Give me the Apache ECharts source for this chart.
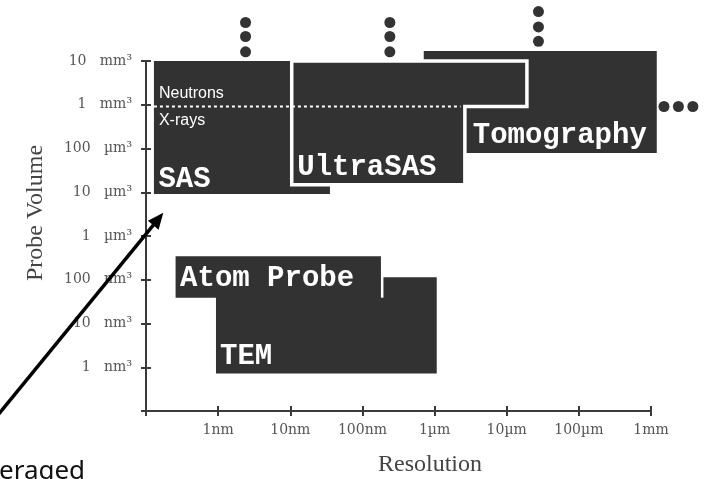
<!DOCTYPE html>
<html><head><meta charset="utf-8">
<script src="https://cdn.jsdelivr.net/npm/echarts@6/dist/echarts.min.js"></script>
<style>html,body{margin:0;padding:0;background:#fff}#c{width:707px;height:479px}</style>
</head><body><div id="c"></div>
<script>
// Resolution axis: log10(resolution / nm).  Probe-volume axis: decade index (0 = 1 nm³ ... 7 = 10 mm³)
const xTickLabels = ['1nm', '10nm', '100nm', '1µm', '10µm', '100µm', '1mm'];            // at 0..6
const yTickLabels = ['1   nm³', '10   nm³', '100   nm³', '1   µm³', '10   µm³', '100   µm³', '1   mm³', '10   mm³']; // at 0..7

const techniques = ['TEM', 'Atom Probe', 'Tomography', 'SAS', 'UltraSAS'];
const resLow  = [-0.03, -0.59, 2.85, -0.89, 1.02];
const resHigh = [ 3.03,  2.26, 6.08,  1.55, 4.28];
const volLow  = [-0.14,  1.59, 4.90,  3.96, 4.17];
const volHigh = [ 2.06,  2.54, 7.23,  7.00, 7.00];
const ultraSasXrayResHigh = 3.42;       // UltraSAS reach below the neutron / x-ray boundary
const neutronXrayBoundary = 5.96;
const boundaryResRange = [-0.89, 3.36];

// "more" continuation dots
const moreX = [0.38, 0.38, 0.38, 2.38, 2.38, 2.38, 4.44, 4.44, 4.44, 6.18, 6.38, 6.58];
const moreY = [7.88, 7.56, 7.21, 7.88, 7.56, 7.21, 8.13, 7.78, 7.45, 5.96, 5.96, 5.96];

const BOX_FILL = '#323232';
const BOX_FONT = 'bold 29px "Liberation Mono", "Courier New", monospace';
const labelOffset = { 'TEM': [4, -17], 'Atom Probe': [4.5, -18.5], 'Tomography': [49, -17], 'SAS': [4.5, -14.5], 'UltraSAS': [5.5, -17.5] };

function renderBox(params, api) {
  const i = params.dataIndex;
  const name = techniques[i];
  const bl = api.coord([api.value(0), api.value(2)]);
  const tr = api.coord([api.value(1), api.value(3)]);
  const children = [];
  const zb = i * 10;
  if (name === 'UltraSAS') {
    const pm = api.coord([ultraSasXrayResHigh, neutronXrayBoundary]);
    const pts = [[bl[0], tr[1]], [tr[0], tr[1]], [tr[0], pm[1]], [pm[0], pm[1]], [pm[0], bl[1]], [bl[0], bl[1]]];
    children.push({ type: 'polygon', z2: zb, shape: { points: pts }, style: { fill: BOX_FILL, stroke: '#fff', lineWidth: 3.5 } });
  } else {
    children.push({ type: 'rect', z2: zb, shape: { x: bl[0], y: tr[1], width: tr[0] - bl[0], height: bl[1] - tr[1] }, style: { fill: BOX_FILL } });
  }
  if (name === 'Atom Probe') {
    children.push({ type: 'line', z2: zb + 1, shape: { x1: tr[0] + 1, y1: tr[1], x2: tr[0] + 1, y2: bl[1] }, style: { stroke: '#fff', lineWidth: 2.5 } });
  }
  const off = labelOffset[name];
  children.push({ type: 'text', z2: zb + 2, x: bl[0] + off[0], y: bl[1] + off[1],
    style: { text: name, fill: '#fff', font: BOX_FONT, align: 'left', verticalAlign: 'middle' } });
  return { type: 'group', children };
}

function renderBoundary(params, api) {
  const a = api.coord([api.value(0), api.value(2)]);
  const b = api.coord([api.value(1), api.value(2)]);
  const f = '16px "Liberation Sans", Arial, sans-serif';
  return { type: 'group', children: [
    { type: 'line', shape: { x1: a[0], y1: a[1], x2: b[0], y2: b[1] }, style: { stroke: '#fff', lineWidth: 2, lineDash: [3, 3] } },
    { type: 'text', x: a[0] + 5, y: a[1] - 13.4, style: { text: 'Neutrons', fill: '#fff', font: f, align: 'left', verticalAlign: 'middle' } },
    { type: 'text', x: a[0] + 5, y: a[1] + 13.8, style: { text: 'X-rays', fill: '#fff', font: f, align: 'left', verticalAlign: 'middle' } }
  ] };
}

const axisColor = '#3a3a3a';
const tickLabelStyle = { color: '#555', fontFamily: '"DejaVu Serif", serif', fontSize: 14 };
const tickLine = { color: axisColor, width: 2 };

const chart = echarts.init(document.getElementById('c'), null, { renderer: 'canvas' });
chart.setOption({
  animation: false,
  backgroundColor: '#fff',
  grid: { left: 146, right: 56, top: 61, bottom: 68, containLabel: false, outerBoundsMode: 'none' },
  xAxis: [
    { type: 'value', min: -1, max: 6, interval: 1,
      axisLine: { onZero: false, lineStyle: tickLine },
      axisTick: { length: 5, lineStyle: tickLine },
      axisLabel: Object.assign({}, tickLabelStyle, { margin: 12, formatter: v => v >= 0 ? xTickLabels[Math.round(v)] : '' }),
      splitLine: { show: false } },
    { type: 'value', position: 'bottom', min: -1, max: 6, interval: 1,
      axisLine: { show: false, onZero: false },
      axisTick: { inside: true, length: 5, lineStyle: tickLine },
      axisLabel: { show: false }, splitLine: { show: false } }
  ],
  yAxis: [
    { type: 'value', min: -1, max: 7, interval: 1,
      axisLine: { onZero: false, lineStyle: tickLine },
      axisTick: { length: 5, lineStyle: tickLine },
      axisLabel: Object.assign({}, tickLabelStyle, { margin: 14, formatter: v => v >= 0 ? yTickLabels[Math.round(v)] : '' }),
      splitLine: { show: false } },
    { type: 'value', position: 'left', min: -1, max: 7, interval: 1,
      axisLine: { show: false, onZero: false },
      axisTick: { inside: true, length: 5, lineStyle: tickLine },
      axisLabel: { show: false }, splitLine: { show: false } }
  ],
  series: [
    { type: 'custom', name: 'techniques', clip: false, renderItem: renderBox, z: 3,
      encode: { x: [0, 1], y: [2, 3] },
      data: techniques.map((n, i) => [resLow[i], resHigh[i], volLow[i], volHigh[i]]) },
    { type: 'custom', name: 'boundary', clip: false, renderItem: renderBoundary, z: 4,
      encode: { x: [0, 1], y: 2 },
      data: [[boundaryResRange[0], boundaryResRange[1], neutronXrayBoundary]] },
    { type: 'scatter', name: 'more', clip: false, z: 5, symbol: 'circle', symbolSize: 11,
      itemStyle: { color: '#333', opacity: 1 },
      data: moreX.map((x, i) => [x, moreY[i]]) }
  ],
  graphic: [
    { type: 'text', x: 35.6, y: 213, rotation: Math.PI / 2, z: 10,
      style: { text: 'Probe Volume', fill: '#444', font: '24px "Liberation Serif", serif', align: 'center', verticalAlign: 'middle' } },
    { type: 'text', x: 430, y: 464.3, z: 10,
      style: { text: 'Resolution', fill: '#444', font: '24px "Liberation Serif", serif', align: 'center', verticalAlign: 'middle' } },
    { type: 'line', z: 20, shape: { x1: -2, y1: 415, x2: 153.5, y2: 224.8 }, style: { stroke: '#000', lineWidth: 3.5 } },
    { type: 'polygon', z: 20, shape: { points: [[163.3, 212.7], [158.6, 229.8], [147.9, 220.8]] }, style: { fill: '#000' } },
    { type: 'text', x: -1, y: 472, z: 10,
      style: { text: 'eraged', fill: '#111', font: '26px "Noto Sans", sans-serif', align: 'left', verticalAlign: 'middle' } }
  ]
});
</script>
</body></html>
